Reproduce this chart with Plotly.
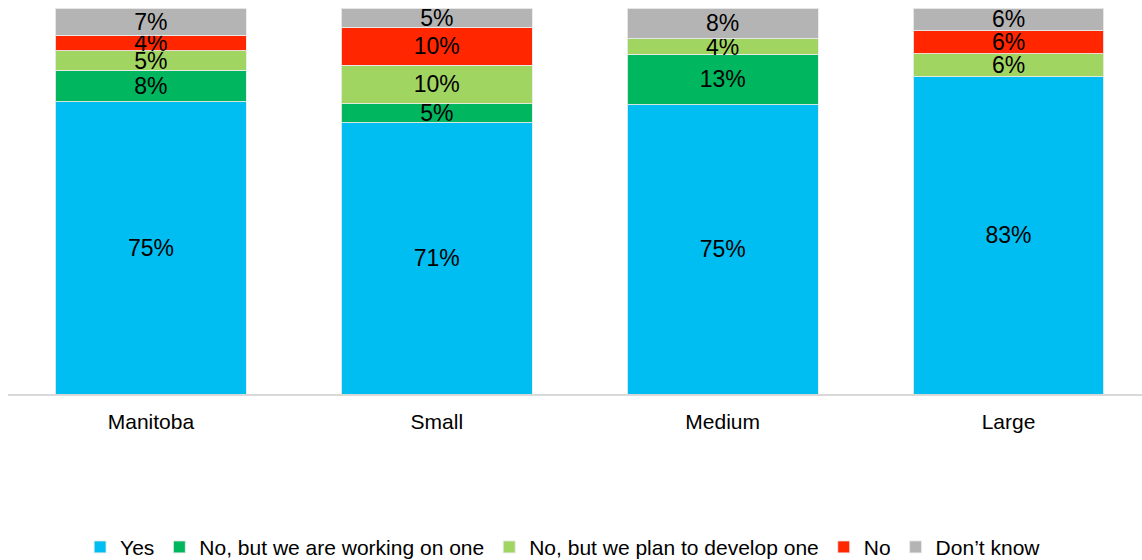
import plotly.graph_objects as go

# Survey results by organisation size (percent of respondents)
categories = ["Manitoba", "Small", "Medium", "Large"]
yes = [75, 71, 75, 83]
working_on_one = [8, 5, 13, None]
plan_to_develop = [5, 10, 4, 6]
no = [4, 10, None, 6]
dont_know = [7, 5, 8, 6]

series = [
    ("Yes", yes, "rgb(0,190,242)"),
    ("No, but we are working on one", working_on_one, "rgb(0,183,96)"),
    ("No, but we plan to develop one", plan_to_develop, "rgb(160,213,98)"),
    ("No", no, "rgb(255,38,0)"),
    ("Don\u2019t know", dont_know, "rgb(180,180,180)"),
]

FONT = "Liberation Sans, Arial, sans-serif"

fig = go.Figure()
for name, vals, color in series:
    fig.add_trace(go.Bar(
        name=name,
        x=categories,
        y=vals,
        width=0.668,
        marker=dict(color=color, line=dict(color="rgba(235,235,235,0.9)", width=1)),
        text=[f"{v}%" if v else "" for v in vals],
        textposition="inside",
        insidetextanchor="middle",
        textangle=0,
        textfont=dict(color="black", size=23, family=FONT),
        hoverinfo="skip",
    ))

fig.update_layout(
    barmode="stack",
    barnorm="percent",
    width=1142,
    height=560,
    margin=dict(l=8, r=0, t=8, b=166, autoexpand=False),
    plot_bgcolor="white",
    paper_bgcolor="white",
    font=dict(family=FONT, size=21, color="black"),
    uniformtext=dict(minsize=23, mode="show"),
    showlegend=True,
    legend=dict(
        orientation="h",
        x=0.4895, xanchor="center",
        y=-0.397, yanchor="middle",
        traceorder="normal",
        font=dict(size=21),
        itemwidth=30,
    ),
    xaxis=dict(
        range=[-0.5, 3.467],
        showline=True,
        linecolor="#d9d9d9",
        linewidth=2,
        ticks="",
        showgrid=False,
        ticklabelstandoff=8,
        tickfont=dict(size=21),
    ),
    yaxis=dict(
        range=[0, 100],
        visible=False,
        showgrid=False,
    ),
)

fig.write_html("out.html")
